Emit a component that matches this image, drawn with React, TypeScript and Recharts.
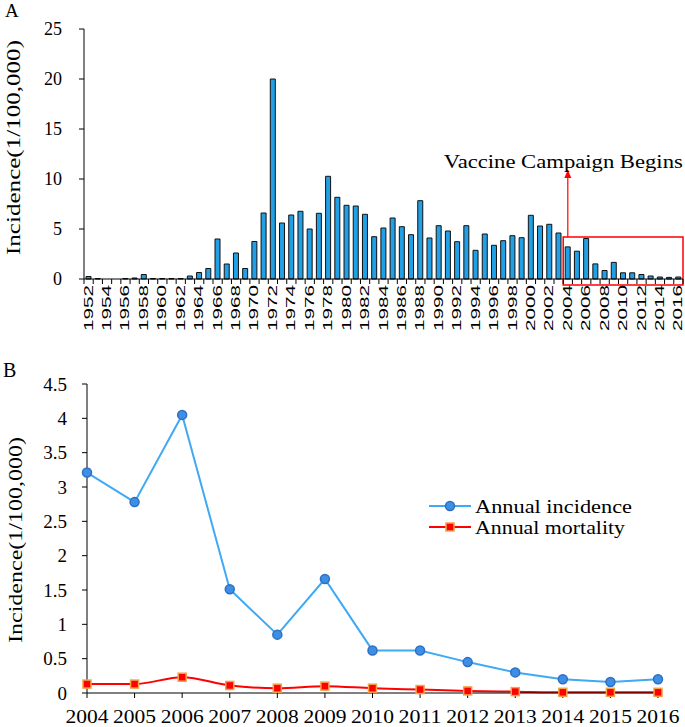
import React from 'react';
import {
  BarChart,
  Bar,
  LineChart,
  Line,
  XAxis,
  YAxis,
  Legend,
  ReferenceArea,
  ReferenceLine,
  ReferenceDot,
} from 'recharts';

// Panel A: yearly incidence 1952-2016
const yearsA = [
  1952, 1953, 1954, 1955, 1956, 1957, 1958, 1959, 1960, 1961,
  1962, 1963, 1964, 1965, 1966, 1967, 1968, 1969, 1970, 1971,
  1972, 1973, 1974, 1975, 1976, 1977, 1978, 1979, 1980, 1981,
  1982, 1983, 1984, 1985, 1986, 1987, 1988, 1989, 1990, 1991,
  1992, 1993, 1994, 1995, 1996, 1997, 1998, 1999, 2000, 2001,
  2002, 2003, 2004, 2005, 2006, 2007, 2008, 2009, 2010, 2011,
  2012, 2013, 2014, 2015, 2016,
];
const incidenceA = [
  0.25, 0.05, 0, 0, 0.05, 0.1, 0.45, 0.05, 0.05, 0.05,
  0.05, 0.3, 0.65, 1.05, 4.0, 1.5, 2.6, 1.05, 3.75, 6.6,
  20.0, 5.6, 6.4, 6.77, 5.0, 6.57, 10.27, 8.17, 7.37, 7.3,
  6.47, 4.23, 5.1, 6.1, 5.23, 4.43, 7.83, 4.1, 5.33, 4.8,
  3.73, 5.33, 2.87, 4.5, 3.37, 3.83, 4.33, 4.13, 6.37, 5.3,
  5.47, 4.6, 3.21, 2.78, 4.05, 1.51, 0.85, 1.66, 0.62, 0.62,
  0.45, 0.3, 0.2, 0.16, 0.2,
];
const ticksA = [0, 5, 10, 15, 20, 25];

// Panel B: 2004-2016 detail
const yearsB = [2004, 2005, 2006, 2007, 2008, 2009, 2010, 2011, 2012, 2013, 2014, 2015, 2016];
const annualIncidence = [3.21, 2.78, 4.05, 1.51, 0.85, 1.66, 0.62, 0.62, 0.45, 0.3, 0.2, 0.16, 0.2];
const annualMortality = [0.13, 0.13, 0.23, 0.11, 0.07, 0.1, 0.07, 0.05, 0.03, 0.02, 0.01, 0.01, 0.01];
const ticksB = [0, 0.5, 1, 1.5, 2, 2.5, 3, 3.5, 4, 4.5];

const SERIF = 'Liberation Serif';
const SANS = 'Liberation Sans';

const barData = yearsA.map((year, i) => ({ year, value: incidenceA[i] }));
const lineData = yearsB.map((year, i) => ({
  year,
  incidence: annualIncidence[i],
  mortality: annualMortality[i],
}));

const A_W = 685;
const A_H = 340;
const A_MARGIN = { top: 29, right: 2, bottom: 5, left: 24 };
const Y_AXIS_W = 60;
const BAND_A = (A_W - A_MARGIN.left - Y_AXIS_W - A_MARGIN.right) / yearsA.length;

const B_W = 685;
const B_H = 387;
const B_MARGIN = { top: 44, right: 27, bottom: 4, left: 27 };

function AxisTitle(props: any) {
  const { viewBox, cx, shift, length } = props;
  const cy = viewBox.y + viewBox.height / 2 + shift;
  return (
    <text
      x={cx}
      y={cy}
      transform={`rotate(-90 ${cx} ${cy})`}
      textAnchor="middle"
      dominantBaseline="central"
      fontFamily={SERIF}
      fontSize={18}
      textLength={length}
      lengthAdjust="spacingAndGlyphs"
      fill="#000"
    >
      Incidence(1/100,000)
    </text>
  );
}

function ValueTick(props: any) {
  const { x, y, payload, size } = props;
  return (
    <text x={x} y={y} dy="0.35em" textAnchor="end" fontFamily={SERIF} fontSize={size} fill="#000">
      {payload.value}
    </text>
  );
}

function YearTickA(props: any) {
  const { x, y, payload, index } = props;
  const axisY = y - 7;
  const left = x - BAND_A / 2;
  return (
    <g>
      <line x1={left} x2={left} y1={axisY} y2={axisY + 5} stroke="#000" />
      {index === yearsA.length - 1 && (
        <line x1={x + BAND_A / 2} x2={x + BAND_A / 2} y1={axisY} y2={axisY + 5} stroke="#000" />
      )}
      {payload.value % 2 === 0 && (
        <text
          transform={`translate(${x},${axisY + 6}) rotate(-90)`}
          textAnchor="end"
          dominantBaseline="central"
          fontFamily={SANS}
          fontSize={12}
          textLength={46}
          lengthAdjust="spacingAndGlyphs"
          fill="#000"
        >
          {payload.value}
        </text>
      )}
    </g>
  );
}

function YearTickB(props: any) {
  const { x, y, payload } = props;
  return (
    <text
      x={x}
      y={y + 23}
      textAnchor="middle"
      fontFamily={SERIF}
      fontSize={19}
      textLength={43}
      lengthAdjust="spacingAndGlyphs"
      fill="#000"
    >
      {payload.value}
    </text>
  );
}

function CampaignMarker(props: any) {
  const { cx, cy } = props;
  return (
    <g>
      <polygon points={`${cx},${cy} ${cx - 3.5},${cy + 8} ${cx + 3.5},${cy + 8}`} fill="#ff0000" />
      <text
        x={cx - 4.5}
        y={cy - 2}
        textAnchor="middle"
        fontFamily={SERIF}
        fontSize={19}
        textLength={239}
        lengthAdjust="spacingAndGlyphs"
        fill="#000"
      >
        Vaccine Campaign Begins
      </text>
    </g>
  );
}

function SquareDot(props: any) {
  const { cx, cy } = props;
  if (cx == null || cy == null) return null;
  return (
    <rect x={cx - 4} y={cy - 4} width={8} height={8} fill="#ff0000" stroke="#f5a04a" strokeWidth={1.5} />
  );
}

const legendItems = [
  { label: 'Annual incidence', color: '#3fa9f5', marker: 'circle', length: 157 },
  { label: 'Annual mortality', color: '#ff0000', marker: 'square', length: 150 },
];

function LegendBox() {
  return (
    <svg width={230} height={44}>
      {legendItems.map((item, i) => {
        const cy = 11 + i * 21;
        return (
          <g key={item.label}>
            <line x1={1} x2={43} y1={cy} y2={cy} stroke={item.color} strokeWidth={2} />
            {item.marker === 'circle' ? (
              <circle cx={22} cy={cy} r={4.5} fill="#3d8fe6" stroke="#2d6fc2" strokeWidth={1.5} />
            ) : (
              <rect x={18} y={cy - 4} width={8} height={8} fill="#ff0000" stroke="#f5a04a" strokeWidth={1.5} />
            )}
            <text
              x={47}
              y={cy}
              dominantBaseline="central"
              fontFamily={SERIF}
              fontSize={19}
              textLength={item.length}
              lengthAdjust="spacingAndGlyphs"
              fill="#000"
            >
              {item.label}
            </text>
          </g>
        );
      })}
    </svg>
  );
}

export default function App() {
  return (
    <div
      style={{
        position: 'absolute',
        left: 0,
        top: 0,
        width: 685,
        height: 727,
        background: '#fff',
        fontFamily: SERIF,
        overflow: 'hidden',
      }}
    >
      <div style={{ position: 'absolute', left: 0, top: 0 }}>
        <BarChart width={A_W} height={A_H} data={barData} margin={A_MARGIN} barSize={5} style={{ fontFamily: SERIF }}>
          <XAxis
            dataKey="year"
            interval={0}
            tick={<YearTickA />}
            tickLine={false}
            tickSize={5}
            tickMargin={2}
            height={56}
            axisLine={{ stroke: '#000' }}
          />
          <YAxis
            width={Y_AXIS_W}
            domain={[0, 25]}
            ticks={ticksA}
            tickSize={5}
            tickMargin={17}
            axisLine={{ stroke: '#000' }}
            tickLine={{ stroke: '#000' }}
            tick={<ValueTick size={18} />}
            label={<AxisTitle cx={14} shift={-6.5} length={215} />}
          />
          <Bar dataKey="value" fill="#22a0e6" stroke="#111" strokeWidth={1} isAnimationActive={false} />
          <ReferenceArea
            x1={2004}
            x2={2016}
            y1={-0.6}
            y2={4.2}
            fill="none"
            fillOpacity={0}
            stroke="#ff0000"
            strokeWidth={1.5}
            ifOverflow="visible"
          />
          <ReferenceLine
            segment={[
              { x: 2004, y: 4.2 },
              { x: 2004, y: 10.9 },
            ]}
            stroke="#ff0000"
            strokeWidth={1.2}
            ifOverflow="visible"
          />
          <ReferenceDot x={2004} y={10.9} r={0} shape={<CampaignMarker />} ifOverflow="visible" />
        </BarChart>
      </div>

      <div style={{ position: 'absolute', left: 0, top: 340 }}>
        <LineChart width={B_W} height={B_H} data={lineData} margin={B_MARGIN} style={{ fontFamily: SERIF }}>
          <XAxis
            type="number"
            dataKey="year"
            domain={[2004, 2016]}
            ticks={yearsB}
            interval={0}
            tickSize={5}
            tickMargin={2}
            height={30}
            axisLine={{ stroke: '#000' }}
            tickLine={{ stroke: '#000' }}
            tick={<YearTickB />}
          />
          <YAxis
            width={Y_AXIS_W}
            domain={[0, 4.5]}
            ticks={ticksB}
            tickSize={5}
            tickMargin={15}
            axisLine={{ stroke: '#000' }}
            tickLine={{ stroke: '#000' }}
            tick={<ValueTick size={19} />}
            label={<AxisTitle cx={16} shift={1.5} length={206} />}
          />
          <Legend
            layout="vertical"
            align="center"
            verticalAlign="middle"
            content={<LegendBox />}
            wrapperStyle={{ left: 428, top: 155, width: 230, height: 44 }}
          />
          <Line
            type="linear"
            dataKey="incidence"
            stroke="#3fa9f5"
            strokeWidth={2}
            dot={{ r: 4.5, fill: '#3d8fe6', stroke: '#2d6fc2', strokeWidth: 1.5 }}
            isAnimationActive={false}
          />
          <Line
            type="monotone"
            dataKey="mortality"
            stroke="#ff0000"
            strokeWidth={2}
            dot={<SquareDot />}
            isAnimationActive={false}
          />
        </LineChart>
      </div>

      <div style={{ position: 'absolute', left: 5, top: 1, fontSize: 19, lineHeight: '20px' }}>A</div>
      <div style={{ position: 'absolute', left: 3, top: 360, fontSize: 20, lineHeight: '20px' }}>B</div>
    </div>
  );
}
